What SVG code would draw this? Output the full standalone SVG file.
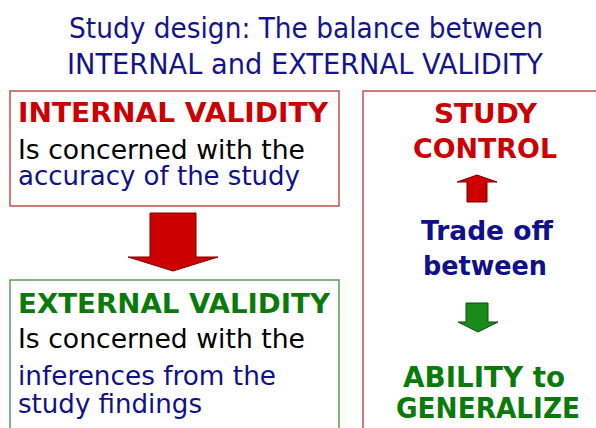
<svg xmlns="http://www.w3.org/2000/svg" width="596" height="428" viewBox="0 0 596 428">
<style>
.t{font-family:"DejaVu Sans","Liberation Sans",sans-serif}
.title{font-size:29px;fill:#14148c}
.b{font-weight:bold;font-size:27px}
.b2{font-weight:bold;font-size:29px}
.r{font-size:26px}
.red{fill:#cc0000}
.grn{fill:#0a7a0a}
.nav{fill:#10108a}
.blk{fill:#000}
.box{fill:#fff;stroke-width:1.5}
</style>
<rect width="596" height="428" fill="#fff"/>
<g id="title">
<text class="t title" x="69" y="38" textLength="474" lengthAdjust="spacingAndGlyphs">Study design: The balance between</text>
<text class="t title" x="67" y="74" textLength="476" lengthAdjust="spacingAndGlyphs">INTERNAL and EXTERNAL VALIDITY</text>
</g>
<g id="internal">
<rect class="box" x="10" y="91" width="329" height="115" stroke="#c0504d"/>
<text class="t b red" x="18" y="122" textLength="310" lengthAdjust="spacingAndGlyphs">INTERNAL VALIDITY</text>
<text class="t r blk" x="18" y="159" textLength="287" lengthAdjust="spacingAndGlyphs">Is concerned with the</text>
<text class="t r nav" x="18" y="185" textLength="282" lengthAdjust="spacingAndGlyphs">accuracy of the study</text>
</g>
<g id="external">
<rect class="box" x="10" y="280" width="329" height="160" stroke="#5a9a5a"/>
<text class="t b grn" x="18" y="313" textLength="312" lengthAdjust="spacingAndGlyphs">EXTERNAL VALIDITY</text>
<text class="t r blk" x="18" y="348" textLength="287" lengthAdjust="spacingAndGlyphs">Is concerned with the</text>
<text class="t r nav" x="18" y="385" textLength="258" lengthAdjust="spacingAndGlyphs">inferences from the</text>
<text class="t r nav" x="18" y="413" textLength="184" lengthAdjust="spacingAndGlyphs">study findings</text>
</g>
<g id="tradeoff">
<rect class="box" x="363" y="91" width="250" height="350" stroke="#c0504d"/>
<text class="t b red" x="434" y="123" textLength="103" lengthAdjust="spacingAndGlyphs">STUDY</text>
<text class="t b red" x="413" y="158" textLength="144" lengthAdjust="spacingAndGlyphs">CONTROL</text>
<text class="t b nav" x="421" y="240" textLength="132" lengthAdjust="spacingAndGlyphs">Trade off</text>
<text class="t b nav" x="423" y="275" textLength="124" lengthAdjust="spacingAndGlyphs">between</text>
<text class="t b2 grn" x="403" y="387" textLength="162" lengthAdjust="spacingAndGlyphs">ABILITY to</text>
<text class="t b2 grn" x="396" y="418" textLength="184" lengthAdjust="spacingAndGlyphs">GENERALIZE</text>
</g>
<g id="connectors">
<polygon points="150,213 196,213 196,257 218,257 173,271 128,257 150,257" fill="#cc0000" stroke="#7a0000" stroke-width="1"/>
<polygon points="467,202 487,202 487,182 497,182 477,175 457,182 467,182" fill="#cc0000" stroke="#7a0000" stroke-width="1"/>
<polygon points="466,303 488,303 488,322 498,322 478,332 458,322 466,322" fill="#1a8a1a" stroke="#0a4a0a" stroke-width="1"/>
</g>
</svg>
